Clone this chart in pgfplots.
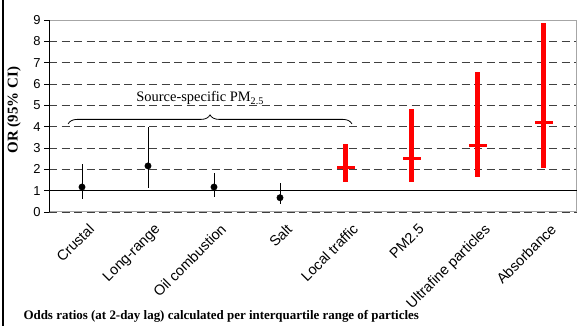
\documentclass[border=0pt]{standalone}
\usepackage{fontspec}
\setmainfont{Liberation Serif}
\setsansfont{Liberation Sans}
\usepackage{pgfplots}
\pgfplotsset{compat=1.18}
\usetikzlibrary{decorations.pathreplacing}
\begin{document}
\begin{tikzpicture}
\path[use as bounding box] (0,0) rectangle (578bp,326bp);
\begin{axis}[
  at={(49bp,114bp)}, anchor=south west,
  width=528bp, height=192bp, scale only axis,
  xmin=0, xmax=8, ymin=0, ymax=9,
  axis line style={draw=none},
  xtick={0.5,1.5,2.5,3.5,4.5,5.5,6.5,7.5},
  xticklabels={Crustal,Long-range,Oil combustion,Salt,Local traffic,PM2.5,Ultrafine particles,Absorbance},
  x tick label style={font=\sffamily\fontsize{14.5}{14.5}\selectfont, rotate=45, anchor=north east, inner sep=1bp, yshift=-7bp, xshift=1bp},
  xtick style={draw=none},
  ytick={0,1,...,9},
  ytick pos=left,
  y tick label style={font=\sffamily\fontsize{13}{13}\selectfont},
  /pgf/number format/assume math mode=true,
  ytick style={black, line width=0.8bp},
  tick align=outside, major tick length=5bp,
  ymajorgrids,
  grid style={black!75, line width=0.8bp, dash pattern=on 8bp off 4.5bp},
  clip=false,
]
% frame
\draw[gray!70, line width=1bp] (rel axis cs:0,0) -- (rel axis cs:1,0) -- (rel axis cs:1,1) -- (rel axis cs:0,1);
\draw[black, line width=1bp] (rel axis cs:0,0) -- (rel axis cs:0,1);
% reference line at OR = 1
\addplot[black, line width=1.5bp] coordinates {(0,1) (8,1)};
% source-specific PM2.5
\addplot[black, only marks, mark=*, mark size=3.2bp,
  error bars/.cd, y dir=both, y explicit,
  error mark=none, error bar style={black, line width=0.9bp}]
  table[x=x, y=or, y error plus=ep, y error minus=em] {
  x   or    ep    em
  0.5 1.17  1.08  0.54
  1.5 2.16  1.84  1.04
  2.5 1.17  0.66  0.45
  3.5 0.67  0.69  0.30
};
% other measures
\addplot[red, only marks, mark=-, mark size=9bp, mark options={line width=3bp, red},
  error bars/.cd, y dir=both, y explicit,
  error mark=none, error bar style={red, line width=5bp, line cap=butt}]
  table[x=x, y=or, y error plus=ep, y error minus=em] {
  x   or    ep    em
  4.5 2.09  1.08  0.67
  5.5 2.50  2.33  1.08
  6.5 3.14  3.41  1.48
  7.5 4.20  4.67  2.12
};
\draw[decorate, decoration={brace, amplitude=9bp}, line width=0.8bp]
  (axis cs:0.29,4.13) -- (axis cs:4.59,4.13);
\node[anchor=base, font=\fontsize{14.5}{14.5}\selectfont] at (axis cs:2.29,5.16)
  {Source-specific PM\textsubscript{2.5}};
\end{axis}
\draw[line width=2.5bp] (3bp,0) -- (3bp,326bp);
\node[rotate=90, font=\bfseries\fontsize{15}{15}\selectfont] at (14bp,216bp) {OR (95\% CI)};
\node[anchor=base west, font=\bfseries\fontsize{13}{13}\selectfont] at (20bp,7bp)
  {Odds ratios (at 2-day lag) calculated per interquartile range of particles};
\end{tikzpicture}
\end{document}
